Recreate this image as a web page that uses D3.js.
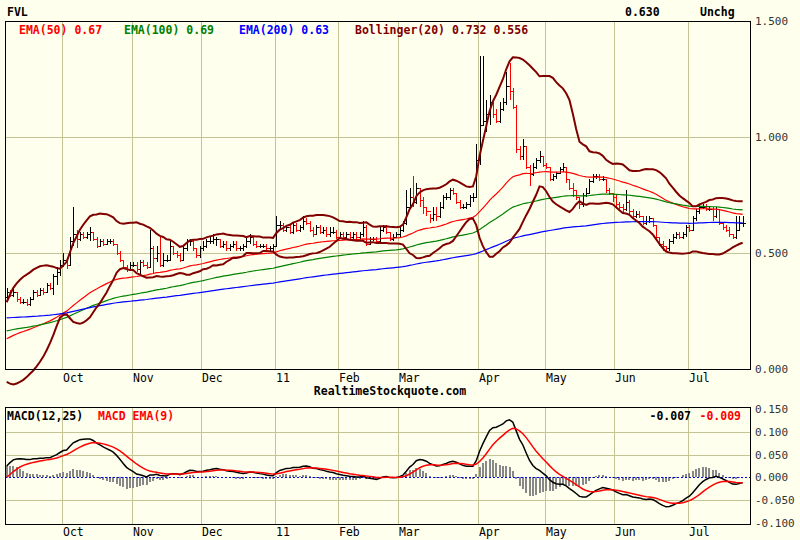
<!DOCTYPE html>
<html>
<head>
<meta charset="utf-8">
<script src="https://cdn.jsdelivr.net/npm/d3@7"></script>
<style>
  body { margin: 0; background: #ffffee; }
  text { font-family: 'DejaVu Sans Mono', monospace; }
</style>
</head>
<body>
<script>
// trading days, Sep 2010 .. Jul 2011 (one value per day)
const monthLabels = ['Oct', 'Nov', 'Dec', '11', 'Feb', 'Mar', 'Apr', 'May', 'Jun', 'Jul']
const monthStart = [17, 38, 59, 81, 100, 118, 142, 162, 183, 205]
const dayCount = 224

// closes before the first visible day (only used by the 20-day band)
const closeBefore = [0.07, 0.07, 0.06, 0.07, 0.07, 0.07, 0.06, 0.07, 0.07, 0.07,
  0.08, 0.07, 0.08, 0.08, 0.09, 0.12, 0.20, 0.28, 0.31]

const close = [
  0.33, 0.32, 0.33, 0.30, 0.29, 0.29, 0.28, 0.30, 0.33, 0.32, 0.34, 0.33, 0.36, 0.35, 0.40, 0.42, 0.45,
  0.47, 0.45, 0.55, 0.58, 0.56, 0.58, 0.57, 0.58, 0.59, 0.56, 0.53, 0.55, 0.54, 0.55, 0.55, 0.54, 0.50, 0.47, 0.44, 0.43, 0.45,
  0.45, 0.43, 0.46, 0.45, 0.44, 0.52, 0.48, 0.50, 0.45, 0.47, 0.47, 0.53, 0.50, 0.49, 0.47, 0.52, 0.55, 0.55, 0.52, 0.49, 0.52,
  0.53, 0.55, 0.55, 0.56, 0.56, 0.53, 0.54, 0.52, 0.53, 0.54, 0.52, 0.52, 0.53, 0.55, 0.57, 0.54, 0.53, 0.53, 0.53, 0.52, 0.52, 0.53,
  0.62, 0.62, 0.60, 0.61, 0.59, 0.62, 0.60, 0.61, 0.64, 0.63, 0.60, 0.58, 0.61, 0.59, 0.60, 0.58, 0.59, 0.59, 0.57,
  0.58, 0.57, 0.58, 0.57, 0.58, 0.57, 0.58, 0.61, 0.54, 0.56, 0.56, 0.55, 0.60, 0.61, 0.59, 0.56, 0.57, 0.58,
  0.60, 0.63, 0.70, 0.74, 0.72, 0.78, 0.73, 0.70, 0.68, 0.65, 0.67, 0.66, 0.70, 0.74, 0.74, 0.77, 0.76, 0.72, 0.70, 0.70, 0.71, 0.74, 0.74, 0.90,
  1.05, 1.07, 1.10, 1.15, 1.10, 1.07, 1.12, 1.15, 1.22, 1.20, 1.13, 0.95, 0.92, 0.96, 0.87, 0.84, 0.87, 0.90, 0.92, 0.88,
  0.87, 0.82, 0.83, 0.845, 0.86, 0.87, 0.82, 0.78, 0.77, 0.74, 0.71, 0.75, 0.76, 0.81, 0.83, 0.83, 0.82, 0.82, 0.77, 0.76, 0.74,
  0.71, 0.70, 0.69, 0.72, 0.68, 0.66, 0.67, 0.66, 0.63, 0.64, 0.65, 0.62, 0.57, 0.54, 0.53, 0.52, 0.55, 0.57, 0.58, 0.57, 0.58, 0.61,
  0.60, 0.65, 0.68, 0.70, 0.70, 0.69, 0.69, 0.66, 0.69, 0.63, 0.61, 0.60, 0.58, 0.57, 0.60, 0.63, 0.63
]

const high = [
  0.35, 0.34, 0.35, 0.33, 0.31, 0.30, 0.30, 0.31, 0.34, 0.34, 0.35, 0.35, 0.37, 0.37, 0.41, 0.44, 0.47,
  0.50, 0.48, 0.57, 0.70, 0.60, 0.59, 0.59, 0.59, 0.61, 0.59, 0.57, 0.56, 0.56, 0.56, 0.56, 0.56, 0.54, 0.51, 0.47, 0.45, 0.46,
  0.46, 0.46, 0.47, 0.47, 0.46, 0.60, 0.53, 0.53, 0.57, 0.50, 0.49, 0.55, 0.53, 0.51, 0.50, 0.53, 0.56, 0.56, 0.56, 0.52, 0.53,
  0.55, 0.56, 0.57, 0.58, 0.57, 0.56, 0.55, 0.55, 0.54, 0.55, 0.55, 0.53, 0.54, 0.57, 0.58, 0.57, 0.55, 0.54, 0.54, 0.54, 0.53, 0.54,
  0.66, 0.64, 0.63, 0.62, 0.62, 0.63, 0.63, 0.62, 0.66, 0.65, 0.64, 0.61, 0.62, 0.62, 0.61, 0.61, 0.61, 0.61, 0.60,
  0.59, 0.59, 0.59, 0.59, 0.59, 0.59, 0.59, 0.64, 0.62, 0.57, 0.57, 0.57, 0.61, 0.62, 0.62, 0.59, 0.58, 0.59,
  0.61, 0.64, 0.77, 0.78, 0.83, 0.80, 0.78, 0.74, 0.70, 0.67, 0.70, 0.70, 0.72, 0.75, 0.76, 0.78, 0.78, 0.76, 0.73, 0.71, 0.72, 0.75, 0.76, 0.97,
  1.35, 1.35, 1.16, 1.18, 1.16, 1.12, 1.15, 1.17, 1.28, 1.32, 1.21, 1.14, 0.96, 0.99, 0.96, 0.88, 0.89, 0.91, 0.94, 0.92,
  0.89, 0.87, 0.84, 0.85, 0.87, 0.89, 0.87, 0.82, 0.80, 0.77, 0.74, 0.76, 0.78, 0.82, 0.84, 0.84, 0.84, 0.83, 0.82, 0.78, 0.76,
  0.75, 0.72, 0.71, 0.77, 0.73, 0.69, 0.68, 0.68, 0.66, 0.66, 0.66, 0.65, 0.62, 0.57, 0.55, 0.53, 0.56, 0.58, 0.59, 0.59, 0.59, 0.62,
  0.62, 0.66, 0.69, 0.71, 0.71, 0.71, 0.70, 0.70, 0.70, 0.69, 0.63, 0.62, 0.61, 0.58, 0.66, 0.66, 0.66
]

const low = [
  0.30, 0.31, 0.31, 0.29, 0.28, 0.28, 0.27, 0.27, 0.30, 0.31, 0.32, 0.32, 0.33, 0.34, 0.32, 0.36, 0.40,
  0.44, 0.43, 0.45, 0.53, 0.52, 0.55, 0.56, 0.56, 0.55, 0.55, 0.52, 0.53, 0.53, 0.54, 0.54, 0.53, 0.49, 0.46, 0.43, 0.42, 0.43,
  0.44, 0.42, 0.41, 0.44, 0.43, 0.44, 0.41, 0.46, 0.44, 0.44, 0.46, 0.47, 0.49, 0.48, 0.46, 0.47, 0.51, 0.53, 0.51, 0.48, 0.48,
  0.51, 0.52, 0.54, 0.54, 0.53, 0.52, 0.52, 0.51, 0.51, 0.52, 0.51, 0.51, 0.51, 0.52, 0.54, 0.53, 0.52, 0.52, 0.52, 0.51, 0.51, 0.51,
  0.53, 0.60, 0.59, 0.59, 0.58, 0.58, 0.59, 0.59, 0.60, 0.62, 0.59, 0.57, 0.58, 0.58, 0.58, 0.57, 0.57, 0.58, 0.56,
  0.56, 0.56, 0.56, 0.56, 0.56, 0.56, 0.56, 0.57, 0.53, 0.54, 0.55, 0.54, 0.55, 0.59, 0.58, 0.55, 0.55, 0.57,
  0.57, 0.59, 0.62, 0.69, 0.70, 0.71, 0.70, 0.67, 0.66, 0.63, 0.64, 0.64, 0.65, 0.69, 0.73, 0.73, 0.75, 0.71, 0.69, 0.69, 0.69, 0.70, 0.72, 0.74,
  0.88, 1.05, 1.02, 1.05, 1.08, 1.06, 1.06, 1.11, 1.14, 1.16, 1.12, 0.93, 0.90, 0.90, 0.86, 0.79, 0.83, 0.86, 0.89, 0.87,
  0.86, 0.81, 0.81, 0.82, 0.84, 0.85, 0.80, 0.77, 0.74, 0.73, 0.69, 0.70, 0.74, 0.76, 0.80, 0.82, 0.81, 0.81, 0.76, 0.75, 0.72,
  0.70, 0.68, 0.67, 0.68, 0.67, 0.65, 0.65, 0.65, 0.62, 0.62, 0.63, 0.61, 0.56, 0.53, 0.51, 0.51, 0.51, 0.54, 0.56, 0.56, 0.56, 0.57,
  0.59, 0.60, 0.64, 0.67, 0.69, 0.68, 0.68, 0.64, 0.65, 0.62, 0.60, 0.59, 0.57, 0.56, 0.56, 0.60, 0.61
]

// indicator values on the first visible day
const emaPeriods = [50, 100, 200]
const emaStart = [0.13, 0.164, 0.22]
const emaColors = ['#ff0000', '#008000', '#0000ff']
const macdStart = { fast: 0.20, slow: 0.175, signal: 0.0 }

const legendMain = [
  { text: 'EMA(50) 0.67', color: '#ff0000', x: 19 },
  { text: 'EMA(100) 0.69', color: '#008000', x: 124 },
  { text: 'EMA(200) 0.63', color: '#0000ff', x: 239 },
  { text: 'Bollinger(20) 0.732 0.556', color: '#800000', x: 355 }
]
const legendMacd = [
  { text: 'MACD(12,25)', color: '#000000', x: 7, anchor: 'start' },
  { text: 'MACD EMA(9)', color: '#ff0000', x: 98, anchor: 'start' },
  { text: '-0.007', color: '#000000', x: 691, anchor: 'end' },
  { text: '-0.009', color: '#ff0000', x: 741, anchor: 'end' }
]
const header = [
  { text: 'FVL', x: 7 },
  { text: '0.630', x: 625 },
  { text: 'Unchg', x: 700 }
]
const priceTicks = [0, 0.5, 1.0, 1.5]
const macdTicks = [-0.1, -0.05, 0, 0.05, 0.1, 0.15]

const W = 800
const H = 540
const grid = '#c4c494'

const ema = (vals, n, seed) => {
  const k = 2 / (n + 1)
  let e = seed
  return vals.map((v, i) => (e = i === 0 ? seed : e + k * (v - e)))
}

const allClose = closeBefore.concat(close)
const boll = close.map((c, i) => {
  const win = allClose.slice(i, i + 20)
  const m = d3.mean(win)
  const sd = Math.sqrt(d3.mean(win, v => (v - m) * (v - m)))
  return { i, up: m + 2 * sd, lo: m - 2 * sd }
})

const fast = ema(close, 12, macdStart.fast)
const slow = ema(close, 25, macdStart.slow)
const macd = fast.map((f, i) => f - slow[i])
const signal = ema(macd, 9, macdStart.signal)

const svg = d3.select('body').append('svg')
  .attr('width', W)
  .attr('height', H)
  .style('display', 'block')
  .style('background', '#ffffee')

const x = d3.scaleLinear().domain([0, dayCount]).range([5, 751])
const y = d3.scaleLinear().domain([0, 1.5]).range([369, 21])
const ym = d3.scaleLinear().domain([-0.1, 0.15]).range([523, 409])
const cx = i => x(i + 0.5)

const panels = [
  { top: 21, bottom: 369, monthY: 382 },
  { top: 407, bottom: 524, monthY: 536 }
]

// month gridlines and labels for both panels
panels.forEach(p => {
  svg.append('g').selectAll('line')
    .data(monthStart)
    .join('line')
    .attr('x1', d => Math.round(x(d)) + 0.5)
    .attr('x2', d => Math.round(x(d)) + 0.5)
    .attr('y1', p.top)
    .attr('y2', p.bottom)
    .attr('stroke', grid)
    .attr('stroke-width', 1)

  svg.append('g').selectAll('text')
    .data(monthStart)
    .join('text')
    .attr('x', d => Math.round(x(d)) + 1)
    .attr('y', p.monthY)
    .attr('font-size', 11.5)
    .attr('fill', '#000')
    .text((d, i) => monthLabels[i])
})

// price panel horizontal grid
svg.append('g').selectAll('line')
  .data(priceTicks.filter(t => t > 0 && t < 1.5))
  .join('line')
  .attr('x1', 5).attr('x2', 751)
  .attr('y1', d => Math.round(y(d)) + 0.5)
  .attr('y2', d => Math.round(y(d)) + 0.5)
  .attr('stroke', grid)

svg.append('g').selectAll('text')
  .data(priceTicks)
  .join('text')
  .attr('x', 755)
  .attr('y', d => y(d) + 4)
  .attr('font-size', 11)
  .attr('fill', '#333')
  .text(d => d3.format('.3f')(d))

// macd panel horizontal grid
svg.append('g').selectAll('line')
  .data(macdTicks.filter(t => t !== 0 && t > -0.1 && t < 0.15))
  .join('line')
  .attr('x1', 5).attr('x2', 751)
  .attr('y1', d => Math.round(ym(d)) + 0.5)
  .attr('y2', d => Math.round(ym(d)) + 0.5)
  .attr('stroke', grid)

svg.append('g').selectAll('text')
  .data(macdTicks)
  .join('text')
  .attr('x', 755)
  .attr('y', d => ym(d) + 4)
  .attr('font-size', 11)
  .attr('fill', '#333')
  .text(d => (d < 0 ? '-' : '') + d3.format('.3f')(Math.abs(d)))

// OHLC bars (open = previous close)
const bars = svg.append('g').attr('shape-rendering', 'crispEdges')
close.forEach((c, i) => {
  const o = i === 0 ? closeBefore[closeBefore.length - 1] : close[i - 1]
  const col = c < o ? '#ff0000' : '#000000'
  const xc = Math.round(cx(i)) + 0.5
  bars.append('line')
    .attr('x1', xc).attr('x2', xc)
    .attr('y1', y(high[i])).attr('y2', y(low[i]))
    .attr('stroke', col)
  bars.append('line')
    .attr('x1', xc - 2).attr('x2', xc)
    .attr('y1', Math.round(y(o)) + 0.5).attr('y2', Math.round(y(o)) + 0.5)
    .attr('stroke', col)
  bars.append('line')
    .attr('x1', xc).attr('x2', xc + 2)
    .attr('y1', Math.round(y(c)) + 0.5).attr('y2', Math.round(y(c)) + 0.5)
    .attr('stroke', col)
})

// EMAs
emaPeriods.forEach((n, k) => {
  const vals = ema(close, n, emaStart[k])
  svg.append('path')
    .datum(vals)
    .attr('fill', 'none')
    .attr('stroke', emaColors[k])
    .attr('stroke-width', 1.2)
    .attr('d', d3.line().x((d, i) => cx(i)).y(d => y(d)))
})

// Bollinger bands
;['up', 'lo'].forEach(key => {
  svg.append('path')
    .datum(boll)
    .attr('fill', 'none')
    .attr('stroke', '#800000')
    .attr('stroke-width', 2)
    .attr('d', d3.line().x(d => cx(d.i)).y(d => y(d[key])))
})

// MACD histogram, zero line, lines
svg.append('g').attr('shape-rendering', 'crispEdges')
  .selectAll('rect')
  .data(macd.map((m, i) => m - signal[i]))
  .join('rect')
  .attr('x', (d, i) => Math.round(cx(i)) - 1)
  .attr('width', 2)
  .attr('y', d => Math.min(ym(d), ym(0)))
  .attr('height', d => Math.abs(ym(d) - ym(0)))
  .attr('fill', '#888888')

svg.append('line')
  .attr('x1', 5).attr('x2', 751)
  .attr('y1', Math.round(ym(0)) + 0.5).attr('y2', Math.round(ym(0)) + 0.5)
  .attr('stroke', '#0000ff')
  .attr('stroke-dasharray', '2,2')

svg.append('path')
  .datum(macd)
  .attr('fill', 'none')
  .attr('stroke', '#000')
  .attr('stroke-width', 1.5)
  .attr('d', d3.line().x((d, i) => cx(i)).y(d => ym(d)))

svg.append('path')
  .datum(signal)
  .attr('fill', 'none')
  .attr('stroke', '#ff0000')
  .attr('stroke-width', 1.5)
  .attr('d', d3.line().x((d, i) => cx(i)).y(d => ym(d)))

// panel borders
panels.forEach(p => {
  svg.append('rect')
    .attr('x', 5.5).attr('y', p.top + 0.5)
    .attr('width', 745).attr('height', p.bottom - p.top)
    .attr('fill', 'none')
    .attr('stroke', '#000')
})

// texts
const bold = (t, xx, yy, col, anchor) => svg.append('text')
  .attr('x', xx).attr('y', yy)
  .attr('font-size', 11.5)
  .attr('font-weight', 'bold')
  .attr('fill', col)
  .attr('text-anchor', anchor || 'start')
  .text(t)

header.forEach(d => bold(d.text, d.x, 16, '#000'))
legendMain.forEach(d => bold(d.text, d.x, 34, d.color))
legendMacd.forEach(d => bold(d.text, d.x, 420, d.color, d.anchor))
bold('RealtimeStockquote.com', 390, 395, '#000', 'middle')
</script>
</body>
</html>
